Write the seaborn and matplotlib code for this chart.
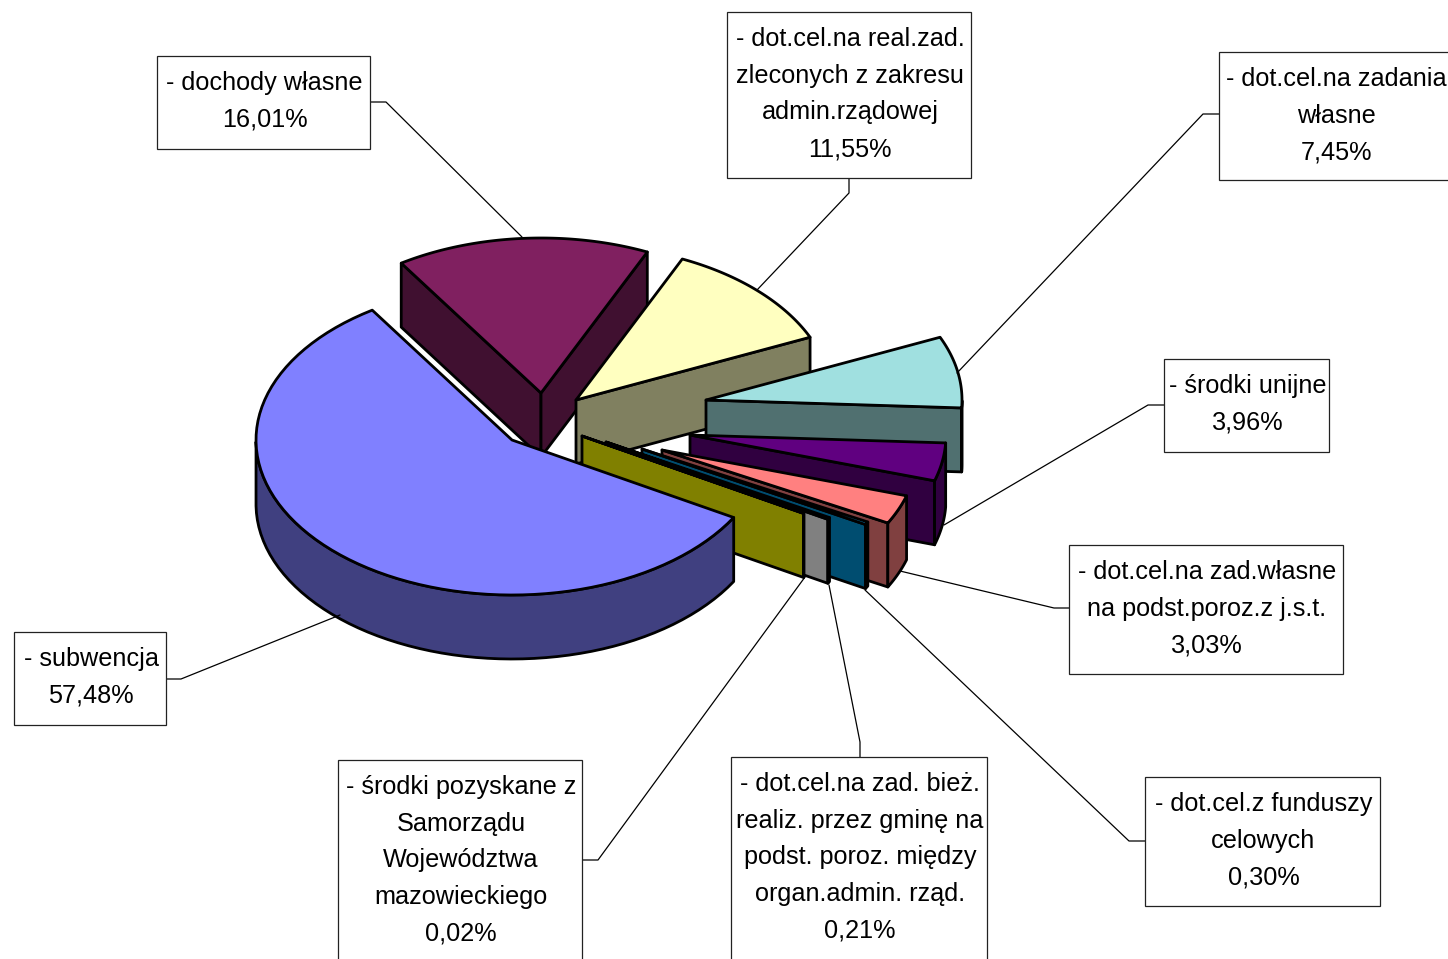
import numpy as np
import matplotlib
matplotlib.use("Agg")
import matplotlib.pyplot as plt
from matplotlib.patches import Polygon, Rectangle
import seaborn as sns

# shares in %, clockwise, starting from the big slice
names = [
    ["- subwencja"],
    ["- dochody własne"],
    ["- dot.cel.na real.zad.", "zleconych z zakresu", "admin.rządowej"],
    ["- dot.cel.na zadania", "własne"],
    ["- środki unijne"],
    ["- dot.cel.na zad.własne", "na podst.poroz.z j.s.t."],
    ["- dot.cel.z funduszy", "celowych"],
    ["- dot.cel.na zad. bież.", "realiz. przez gminę na", "podst. poroz. między", "organ.admin. rząd."],
    ["- środki pozyskane z", "Samorządu", "Województwa", "mazowieckiego"],
]
values = [57.48, 16.01, 11.55, 7.45, 3.96, 3.03, 0.30, 0.21, 0.02]
colors = ["#8080FF", "#802060", "#FFFFC0", "#A0E0E0", "#600080",
          "#FF8080", "#009AE0", "#FFFFFF", "#FFFF00"]

# layout in pixels
apex = [(512, 440), (541, 393), (576, 400), (706, 400), (690, 435),
        (662, 450), (642, 449), (606, 442), (582, 436)]
boxes = [(14, 632, 166, 725), (157, 56, 370, 149), (727, 12, 971, 178),
         (1219, 52, 1451, 180), (1164, 359, 1329, 452), (1069, 545, 1343, 674),
         (1145, 777, 1380, 906), (731, 757, 987, 975), (338, 760, 582, 975)]
leaders = [[(166, 679), (181, 679), (340, 615)],
           [(370, 102), (386, 102), (522, 237)],
           [(849, 178), (849, 193), (757, 290)],
           [(1219, 114), (1203, 114), (957, 373)],
           [(1164, 405), (1148, 405), (944, 525)],
           [(1069, 608), (1054, 608), (900, 571)],
           [(1145, 841), (1129, 841), (865, 590)],
           [(860, 757), (860, 742), (829, 585)],
           [(582, 860), (598, 860), (805, 577)]]
rx, ry, depth = 256, 155, 64
start_angle = 30

sns.set_theme(style="white")
plt.rcParams["font.family"] = ["Liberation Sans", "DejaVu Sans"]
palette = sns.color_palette(colors)

fig = plt.figure(figsize=(14.48, 9.59), dpi=100)
ax = fig.add_axes([0, 0, 1, 1])
ax.set_xlim(0, 1448)
ax.set_ylim(959, 0)
ax.axis("off")

ends = start_angle + np.cumsum(values) / sum(values) * 360
starts = np.r_[start_angle, ends[:-1]]


def rim(cx, cy, t):
    r = np.radians(t)
    return cx + rx * np.cos(r), cy + ry * np.sin(r)


def wall(xy, fc):
    ax.add_patch(Polygon(xy, closed=True, fc=fc, ec="black", lw=2.0, joinstyle="round"))


# painter's order: back slices first, big slice last
for i in list(range(1, len(values))) + [0]:
    cx, cy = apex[i]
    col = palette[i]
    dark = tuple(c * 0.5 for c in col)
    t = np.linspace(starts[i], ends[i], 80)
    x, y = rim(cx, cy, t)

    # flat side walls, only the ones facing the viewer
    if np.cos(np.radians(starts[i])) < 0:
        wall([(cx, cy), (x[0], y[0]), (x[0], y[0] + depth), (cx, cy + depth)], dark)
    if np.cos(np.radians(ends[i])) > 0:
        wall([(cx, cy), (x[-1], y[-1]), (x[-1], y[-1] + depth), (cx, cy + depth)], dark)

    # outer rim
    front = np.sin(np.radians(t)) >= 0
    if front.any():
        fx, fy = x[front], y[front]
        wall(np.c_[np.r_[fx, fx[::-1]], np.r_[fy, fy[::-1] + depth]], dark)

    # top face
    wall(np.c_[np.r_[cx, x], np.r_[cy, y]], col)

for i, val in enumerate(values):
    x0, y0, x1, y1 = boxes[i]
    ax.plot(*zip(*leaders[i]), color="black", lw=0.9, zorder=3)
    ax.add_patch(Rectangle((x0, y0), x1 - x0, y1 - y0, fc="white", ec="#222222", lw=0.9, zorder=4))
    lines = names[i] + [f"{val:.2f}".replace(".", ",") + "%"]
    for k, line in enumerate(lines):
        ax.text((x0 + x1) / 2 + 1, y0 + 34 + k * 36.7, line, ha="center", va="baseline",
                fontsize=18.2, color="black", zorder=5)

fig.savefig("out.png", dpi=100)
